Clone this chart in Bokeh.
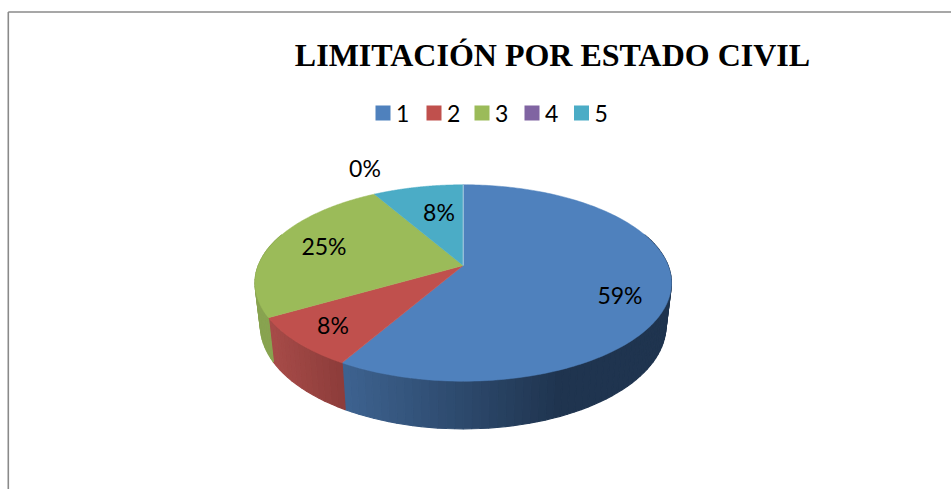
import numpy as np
from bokeh.plotting import figure
from bokeh.models import Range1d
from bokeh.core.properties import value
from bokeh.embed import file_html
from bokeh.resources import INLINE

title = "LIMITACIÓN POR ESTADO CIVIL"
categories = ["1", "2", "3", "4", "5"]
shares = [58.33, 8.33, 25.0, 0.0, 8.33]
pct_labels = ["59%", "8%", "25%", "0%", "8%"]
top_colors = ["#4f81bd", "#c0504d", "#9bbb59", "#8064a2", "#4bacc6"]

# page geometry
CX, AY_TOP, AY_BOT = 462.7, 265.0, 306.7
K, A_TOP, B_TOP, A_BOT, B_BOT = 0.178, 95.1, 204.9, 100.0, 199.6


def rim(theta, a, b, ay):
    X, Y = np.sin(theta), np.cos(theta)
    w = 1 + K * Y
    return CX + b * X / w, ay - a * Y / w


def mix(c1, c2, t):
    c1 = np.array([int(c1[i:i + 2], 16) for i in (1, 3, 5)], float)
    c2 = np.array([int(c2[i:i + 2], 16) for i in (1, 3, 5)], float)
    c = c1 + (c2 - c1) * t
    return "#%02x%02x%02x" % tuple(int(round(v)) for v in c)


p = figure(width=951, height=489, x_range=Range1d(0, 951), y_range=Range1d(489, 0),
           toolbar_location=None, output_backend="svg", min_border=0,
           outline_line_color=None, background_fill_color="white")
p.axis.visible = False
p.grid.visible = False

# frame
p.line([7.8, 7.8], [489, 11.5], line_color="#8a8a8a", line_width=1.6)
p.line([7.8, 951], [11.5, 11.5], line_color="#8a8a8a", line_width=1.6)

fr = np.array(shares) / sum(shares)
edges = np.concatenate([[0], np.cumsum(fr)]) * 2 * np.pi

# side wall
side_ends = [("#3d628f", "#1f344f"), ("#a64b48", "#8c3c3a"), ("#8ca653", "#84a04c"),
             ("#6f568c", "#6f568c"), ("#3f93aa", "#3f93aa")]
xs, ys, cs = [], [], []
step = np.radians(2.0)
for i in range(5):
    a0, a1 = edges[i], edges[i + 1]
    if a1 - a0 < 1e-6:
        continue
    n = max(1, int((a1 - a0) / step))
    t = np.linspace(a0, a1, n + 1)
    for j in range(n):
        mid = 0.5 * (t[j] + t[j + 1])
        if np.cos(mid) > 0.35:
            continue
        tx0, ty0 = rim(t[j], A_TOP, B_TOP, AY_TOP)
        tx1, ty1 = rim(t[j + 1], A_TOP, B_TOP, AY_TOP)
        bx0, by0 = rim(t[j], A_BOT, B_BOT, AY_BOT)
        bx1, by1 = rim(t[j + 1], A_BOT, B_BOT, AY_BOT)
        xs.append([tx0, tx1, bx1, bx0])
        ys.append([ty0, ty1, by1, by0])
        mx = 0.5 * (tx0 + tx1)
        if i == 0:
            tt = min(1, max(0, (345 - mx) / (345 - 560)))
        elif i == 1:
            tt = min(1, max(0, (272 - mx) / (272 - 342)))
        else:
            tt = 0.5
        cs.append(mix(side_ends[i][0], side_ends[i][1], tt))
p.patches(xs, ys, fill_color=cs, line_color=cs, line_width=1.2)

# top surface
for i in range(5):
    a0, a1 = edges[i], edges[i + 1]
    if a1 - a0 < 1e-6:
        continue
    t = np.linspace(a0, a1, 200)
    x, y = rim(t, A_TOP, B_TOP, AY_TOP)
    p.patch(np.r_[CX, x], np.r_[AY_TOP, y], fill_color=top_colors[i], line_color=top_colors[i], line_width=0.5)

# light seam between last and first slice
x, y = rim(np.array([0.0]), A_TOP, B_TOP, AY_TOP)
p.line([CX, x[0]], [AY_TOP, y[0]], line_color="#c6d6e8", line_width=0.8)

# data labels
lab_x = [619.5, 332.5, 323.5, 364.5, 438.5]
lab_y = [294, 324, 245, 167, 211]
p.text(lab_x, lab_y, text=pct_labels, text_font=value("Lato"), text_font_size="23px",
       text_color="black", text_align="center", text_baseline="middle")

# title
p.text([552], [54], text=[title], text_font=value("Liberation Serif"), text_font_style="bold",
       text_font_size="32px", text_color="black", text_align="center", text_baseline="middle")

# legend
leg_x = [382.5, 433.5, 481.5, 531.5, 581]
p.rect(leg_x, [112.5] * 5, width=15, height=15, fill_color=top_colors, line_color=None)
p.text([v + 13 for v in leg_x], [113] * 5, text=categories, text_font=value("Lato"), text_font_size="23px",
       text_color="black", text_align="left", text_baseline="middle")

open("out.html", "w").write(file_html(p, INLINE))
